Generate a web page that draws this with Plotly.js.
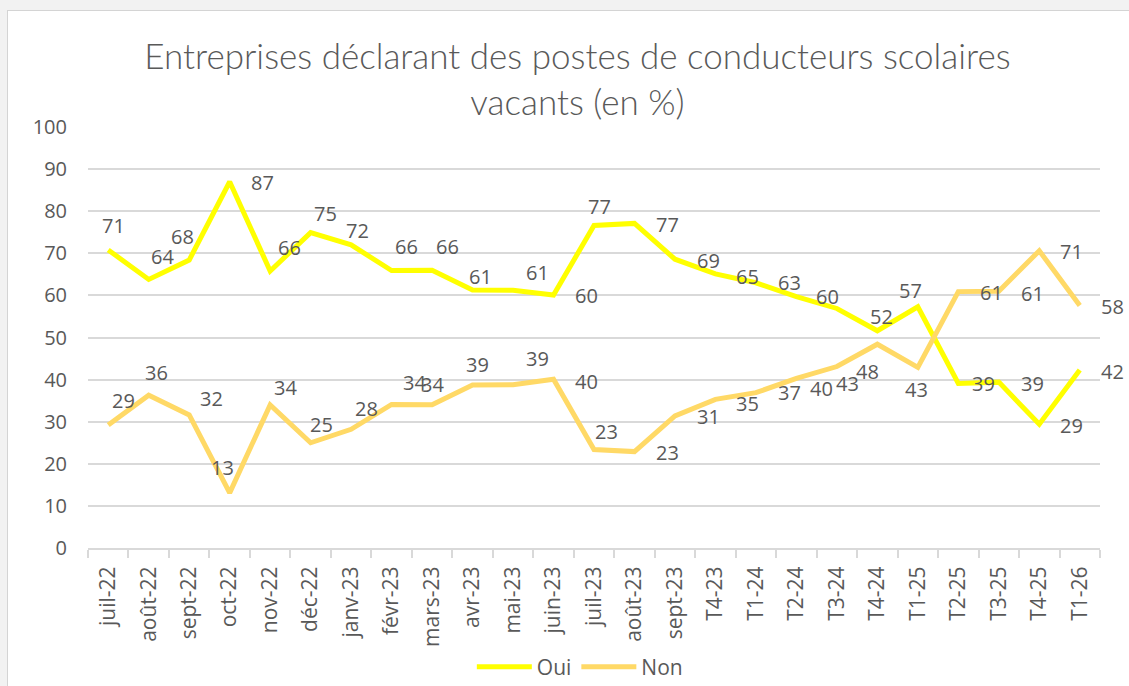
<!DOCTYPE html>
<html>
<head>
<meta charset="utf-8">
<script src="https://cdn.plot.ly/plotly-3.0.1.min.js"></script>
<style>
  html, body { margin: 0; padding: 0; background: #f2f2f2; width: 1129px; height: 686px; overflow: hidden; }
  #frame { position: absolute; left: 7px; top: 10px; width: 1122px; height: 676px; background: #ffffff;
           border-left: 1px solid #d4d4d4; border-top: 1px solid #d4d4d4; }
  #chart { width: 1121px; height: 675px; }
</style>
</head>
<body>
<div id="frame"><div id="chart"></div></div>
<script>
// ---- data ----
const categories = ["juil-22","août-22","sept-22","oct-22","nov-22","déc-22","janv-23","févr-23","mars-23",
  "avr-23","mai-23","juin-23","juil-23","août-23","sept-23","T4-23","T1-24","T2-24","T3-24","T4-24",
  "T1-25","T2-25","T3-25","T4-25","T1-26"];
const oui = [70.8, 63.8, 68.4, 87.0, 65.8, 74.9, 72.0, 65.9, 66.0, 61.3, 61.2, 60.1, 76.6, 77.1, 68.6,
  65.1, 63.0, 59.7, 56.9, 51.6, 57.3, 39.1, 39.4, 29.4, 42.3];
const non = [29.2, 36.3, 31.6, 13.1, 34.0, 25.0, 28.2, 34.1, 34.0, 38.7, 38.8, 40.1, 23.4, 22.9, 31.4,
  35.3, 36.9, 40.3, 43.1, 48.4, 42.9, 60.9, 61.0, 70.6, 57.6];
const ouiShown = [1,1,1,1,1,1,1,1,1,1,1,1,1,1,1,1,1,1,0,1,1,1,1,1,1]; // label visible
const nonShown = [1,1,1,1,1,1,1,1,1,1,1,1,1,1,1,1,1,1,1,1,1,1,1,1,1];

// ---- label placement (style, pixel offsets from each point) ----
const ouiDx = [5,14,-7,33,19,15,6,15,15,8,24,33,5,33,34,32,34,31,0,4,-7,25,34,32,33];
const ouiDy = [-24,-23,-24,1,-23,-19,-14,-24,-24,-13,-18,1,-19,1,1,3,0,0,0,-14,-16,0,1,1,2];
const nonDx = [15,8,22,-7,15,11,15,23,0,5,24,33,12,33,34,32,34,25,11,-10,-1,33,34,32,33];
const nonDy = [-25,-23,-16,-25,-17,-18,-21,-22,-20,-21,-26,2,-18,1,1,4,0,10,17,27,22,1,2,1,1];

const labelFont = { family: "Open Sans, Liberation Sans, sans-serif", size: 20, color: "#595959" };

const annotations = [];
function addLabels(vals, shown, dx, dy) {
  vals.forEach((v, i) => {
    if (!shown[i]) return;
    annotations.push({
      x: categories[i], y: v, xref: "x", yref: "y",
      text: String(Math.round(v)), showarrow: false,
      xanchor: "center", yanchor: "middle",
      xshift: dx[i], yshift: -dy[i], font: labelFont
    });
  });
}
addLabels(oui, ouiShown, ouiDx, ouiDy);
addLabels(non, nonShown, nonDx, nonDy);

const traces = [
  { type: "scatter", mode: "lines", name: "Oui", x: categories, y: oui,
    line: { color: "#FFFF00", width: 5 }, hoverinfo: "skip" },
  { type: "scatter", mode: "lines", name: "Non", x: categories, y: non,
    line: { color: "#FFD966", width: 5 }, hoverinfo: "skip" }
];

const layout = {
  width: 1121, height: 675,
  paper_bgcolor: "#ffffff", plot_bgcolor: "#ffffff",
  margin: { l: 80, r: 29, t: 116, b: 138, autoexpand: false },
  title: {
    text: "Entreprises déclarant des postes de conducteurs scolaires<br>vacants (en %)",
    font: { family: "Lato, Open Sans, sans-serif", size: 35, color: "#595959", weight: 300 },
    x: 0.508, xanchor: "center", y: 0.914, yanchor: "top", yref: "container", automargin: false
  },
  showlegend: true,
  legend: {
    orientation: "h", x: 0.486, xanchor: "center", y: -0.283, yanchor: "middle",
    font: { family: "Open Sans, Liberation Sans, sans-serif", size: 21, color: "#595959" },
    itemwidth: 55, traceorder: "normal"
  },
  xaxis: {
    type: "category", range: [-0.5, 24.5], automargin: false,
    showgrid: false, zeroline: false,
    showline: true, linecolor: "#d9d9d9", linewidth: 2,
    ticks: "outside", tickson: "boundaries", ticklen: 8, tickcolor: "#d9d9d9", tickwidth: 2,
    tickangle: -90, ticklabelstandoff: 8,
    tickfont: { family: "Open Sans, Liberation Sans, sans-serif", size: 21, color: "#595959" }
  },
  yaxis: {
    range: [0, 100], dtick: 10, tick0: 0, automargin: false,
    showgrid: true, gridcolor: "#d9d9d9", gridwidth: 2,
    zeroline: false, showline: false, ticks: "",
    ticklabelstandoff: 20,
    tickfont: { family: "Open Sans, Liberation Sans, sans-serif", size: 20, color: "#595959" }
  },
  annotations: annotations
};

Plotly.newPlot("chart", traces, layout, { displayModeBar: false, staticPlot: true });
</script>
</body>
</html>
